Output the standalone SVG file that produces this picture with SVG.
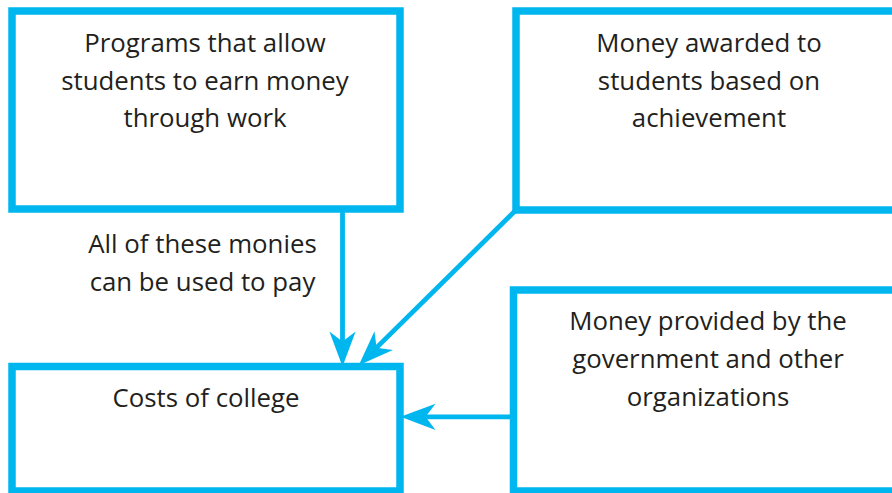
<svg xmlns="http://www.w3.org/2000/svg" width="892" height="493" viewBox="0 0 892 493">
  <style>
    .box { fill: #ffffff; stroke: #00B6EF; stroke-width: 7.5; }
    .lbl { font-family: "Open Sans", "Noto Sans", sans-serif; font-size: 25.8px; fill: #231F20; text-anchor: middle; }
    .wire { stroke: #00B6EF; stroke-width: 4.8; fill: none; }
  </style>
  <defs>
    <!-- notched arrowhead; the line stops at the notch, the tip sits 18px further on -->
    <marker id="arrow" markerUnits="userSpaceOnUse" markerWidth="40" markerHeight="40" viewBox="-30 -15 32 30" refX="-18" refY="0" orient="auto">
      <path d="M0,0 L-28,-10.5 L-20,0 L-28,10.5 Z" fill="#00B6EF"/>
    </marker>
  </defs>
  <rect width="892" height="493" fill="#ffffff"/>

  <g id="connectors">
    <line class="wire" x1="342.5" y1="212" x2="342.5" y2="344" marker-end="url(#arrow)"/>
    <line class="wire" x1="516" y1="210" x2="374.8" y2="349.4" marker-end="url(#arrow)"/>
    <line class="wire" x1="513" y1="416.8" x2="423" y2="416.8" marker-end="url(#arrow)"/>
  </g>

  <g id="work-programs">
    <rect class="box" x="12" y="11" width="388" height="198"/>
    <text class="lbl" x="205" y="51.5">Programs that allow</text>
    <text class="lbl" x="205" y="89.5">students to earn money</text>
    <text class="lbl" x="205" y="127">through work</text>
  </g>

  <g id="scholarships">
    <rect class="box" x="516" y="11" width="390" height="199"/>
    <text class="lbl" x="709" y="51.5">Money awarded to</text>
    <text class="lbl" x="709" y="89.5">students based on</text>
    <text class="lbl" x="709" y="127">achievement</text>
  </g>

  <g id="aid">
    <rect class="box" x="513.5" y="290" width="392" height="201"/>
    <text class="lbl" x="708" y="330">Money provided by the</text>
    <text class="lbl" x="708" y="368">government and other</text>
    <text class="lbl" x="708" y="406">organizations</text>
  </g>

  <g id="costs">
    <rect class="box" x="12" y="366.5" width="388" height="124.5"/>
    <text class="lbl" x="206" y="406.5">Costs of college</text>
  </g>

  <g id="note">
    <text class="lbl" x="202.5" y="253">All of these monies</text>
    <text class="lbl" x="202.5" y="291">can be used to pay</text>
  </g>
</svg>
